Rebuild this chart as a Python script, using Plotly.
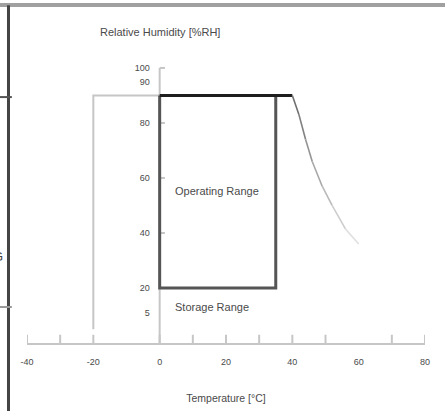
import plotly.graph_objects as go

# ---- data ----
temp_tick_marks = [-40, -30, -20, 0, 10, 20, 30, 40, 50, 70, 80]
temp_label_vals = [-40, -20, 0, 20, 40, 60, 80]
temp_label_text = ["-40", "-20", "0", "20", "40", "60", "80"]

rh_label_text = ["100", "90", "80", "60", "40", "20", "5"]
rh_label_pos = [100, 95, 80, 60, 40, 20, 11]
rh_tick_marks = [100, 80, 60, 40]

oper_temp = [0, 35]          # operating range temperature
oper_rh = [20, 90]           # operating range humidity
stor_temp_min = -20          # storage range
stor_rh = [5, 90]
top_temp_max = 40            # 90 %RH up to 40 C

curve_temp = [40, 42, 44, 46, 49, 52, 56, 60]
curve_rh = [90, 83, 74, 66, 57, 50, 41.5, 36]

FONT = "Liberation Sans"
TXT = "#4a4a4a"
LIGHT = "#c6c6c6"

fig = go.Figure()

# storage range box (light)
fig.add_trace(go.Scatter(x=[stor_temp_min, stor_temp_min, oper_temp[0]],
                         y=[stor_rh[0], stor_rh[1], stor_rh[1]],
                         mode="lines", line=dict(color=LIGHT, width=2),
                         hoverinfo="skip", cliponaxis=False))

# x axis tick marks
tx, ty = [], []
for t in temp_tick_marks:
    tx += [t, t, None]
    ty += [0, 3, None]
fig.add_trace(go.Scatter(x=tx, y=ty, mode="lines", line=dict(color=LIGHT, width=2),
                         hoverinfo="skip", cliponaxis=False))

# y axis line + tick marks (on yaxis2)
yx, yy = [0, 0, None], [0, 100, None]
for v in rh_tick_marks:
    yx += [0, 1.6, None]
    yy += [v, v, None]
fig.add_trace(go.Scatter(x=yx, y=yy, mode="lines", line=dict(color=LIGHT, width=2),
                         hoverinfo="skip", cliponaxis=False, yaxis="y2"))

# operating range box (drawn above the y axis line)
fig.add_trace(go.Scatter(x=[oper_temp[0], oper_temp[0], oper_temp[1], oper_temp[1]],
                         y=[oper_rh[1], oper_rh[0], oper_rh[0], oper_rh[1]],
                         mode="lines", line=dict(color="#555555", width=3),
                         hoverinfo="skip", cliponaxis=False, yaxis="y2"))
fig.add_trace(go.Scatter(x=[oper_temp[0], top_temp_max], y=[oper_rh[1], oper_rh[1]],
                         mode="lines", line=dict(color="#1e1e1e", width=3),
                         hoverinfo="skip", cliponaxis=False, yaxis="y2"))

# fading curve above 40 C
n = len(curve_temp) - 1
for i in range(n):
    f = i / max(n - 1, 1)
    g = int(0x70 + f * (0xe0 - 0x70))
    fig.add_trace(go.Scatter(x=curve_temp[i:i + 2], y=curve_rh[i:i + 2], mode="lines",
                             line=dict(color=f"rgb({g},{g},{g})", width=1.6),
                             hoverinfo="skip", cliponaxis=False, yaxis="y2"))

ann = []
ann.append(dict(x=0, y=113, xref="x", yref="y", text="Relative Humidity [%RH]",
                showarrow=False, font=dict(family=FONT, size=11, color=TXT)))
ann.append(dict(x=4, y=55.3, xref="x", yref="y", text="Operating Range", xanchor="left",
                showarrow=False, font=dict(family=FONT, size=11, color=TXT)))
ann.append(dict(x=4, y=13.1, xref="x", yref="y", text="Storage Range", xanchor="left",
                showarrow=False, font=dict(family=FONT, size=11, color=TXT)))
# cut-off letters at the left scan edge
ann.append(dict(x=-0.055, y=0.225, xref="paper", yref="paper", text="G", xanchor="right",
                showarrow=False, font=dict(family=FONT, size=13, color="#444444")))
ann.append(dict(x=-0.063, y=0.383, xref="paper", yref="paper", text=")", xanchor="right",
                showarrow=False, font=dict(family=FONT, size=11, color="#999999")))

shapes = [
    # top grey band of the scan
    dict(type="rect", xref="paper", yref="paper", x0=-0.08, x1=1.06, y0=0.9796, y1=0.9913,
         fillcolor="#a0a0a0", line=dict(width=0), layer="above"),
    # left dark frame line
    dict(type="line", xref="paper", yref="paper", x0=-0.0465, x1=-0.0465, y0=0.985, y1=-0.2,
         line=dict(color="#444444", width=3), layer="above"),
    dict(type="line", xref="paper", yref="paper", x0=-0.07, x1=-0.038, y0=0.717, y1=0.717,
         line=dict(color="#555555", width=2), layer="above"),
    dict(type="line", xref="paper", yref="paper", x0=-0.07, x1=-0.038, y0=0.105, y1=0.105,
         line=dict(color="#9a9a9a", width=2), layer="above"),
]

fig.update_layout(
    width=445, height=411,
    margin=dict(l=27, r=20, t=0, b=68),
    paper_bgcolor="white", plot_bgcolor="white",
    showlegend=False,
    annotations=ann, shapes=shapes,
    xaxis=dict(range=[-40, 80], showgrid=False, zeroline=False,
               showline=True, linecolor=LIGHT, linewidth=2,
               tickvals=temp_label_vals, ticktext=temp_label_text, ticks="",
               ticklabelstandoff=9,
               tickfont=dict(family=FONT, size=9, color=TXT),
               title=dict(text="Temperature [°C]", standoff=29,
                          font=dict(family=FONT, size=10.5, color=TXT))),
    yaxis=dict(range=[0, 124.7], visible=False),
    yaxis2=dict(range=[0, 124.7], overlaying="y", anchor="free", position=1 / 3,
                side="left", showgrid=False, zeroline=False, showline=False,
                tickvals=rh_label_pos, ticktext=rh_label_text, ticks="",
                ticklabelstandoff=10,
                tickfont=dict(family=FONT, size=9, color=TXT)),
)

fig.write_html("out.html", config={"displayModeBar": False},
               post_script="document.body.style.margin='0';document.body.style.overflow='hidden';")
